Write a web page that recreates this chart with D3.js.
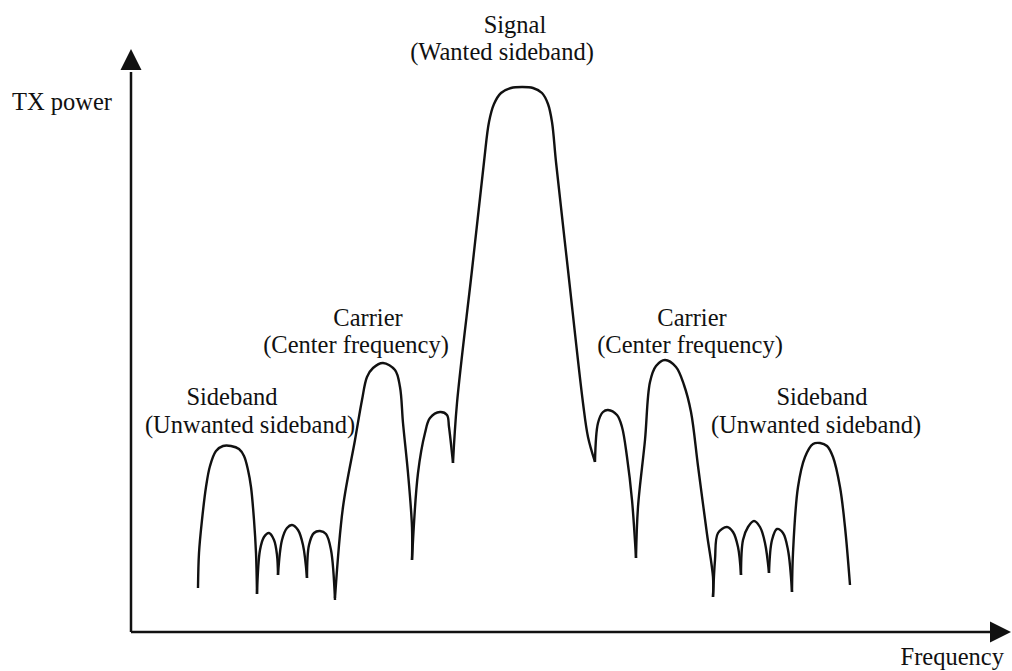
<!DOCTYPE html>
<html>
<head>
<meta charset="utf-8">
<script src="https://cdn.jsdelivr.net/npm/d3@7"></script>
<style>
  body { margin: 0; background: #fff; }
  svg { display: block; }
</style>
</head>
<body>
<svg width="1012" height="671"></svg>
<script>
// spectrum, one array per lobe: [frequency, power]
var sidebandLeft = [[67, 44], [68, 79], [71, 112], [75, 145], [79, 166], [85, 181], [92, 186], [100, 186], [108, 183], [113, 176], [117, 162], [120, 145], [123, 112], [125, 79], [126, 38]];
var spurLeft1 = [[126, 38], [129, 82], [133, 95], [138, 99], [143, 92], [146, 77], [147, 57]];
var spurLeft2 = [[147, 57], [151, 92], [156, 104], [161, 107], [167, 102], [172, 87], [176, 54]];
var spurLeft3 = [[176, 54], [178, 87], [183, 99], [189, 101], [195, 98], [200, 82], [204, 32]];
var carrierLeft = [[204, 34], [212, 125], [224, 192], [231, 232], [236, 255], [242, 264], [252, 269], [264, 262], [269, 245], [272, 209], [277, 159], [281, 105], [281, 72]];
var shoulderLeft = [[281, 72], [287, 159], [294, 199], [299, 214], [309, 220], [316, 217], [318, 205], [322, 169]];
var signal = [[322, 169], [326, 229], [341, 362], [353, 470], [358, 510], [363, 528], [370, 539], [380, 544], [391, 545], [402, 544], [411, 539], [417, 528], [421, 510], [425, 470], [437, 362], [452, 229], [457, 195], [464, 170]];
var shoulderRight = [[464, 170], [467, 209], [472, 220], [477, 222], [486, 217], [491, 205], [496, 175], [501, 132], [505, 74]];
var carrierRight = [[505, 74], [507, 125], [514, 192], [519, 250], [525, 266], [534, 272], [545, 265], [553, 247], [560, 220], [567, 166], [576, 98], [582, 55], [582, 35]];
var spurRight1 = [[582, 35], [584, 72], [587, 99], [596, 105], [602, 100], [607, 85], [610, 57]];
var spurRight2 = [[610, 57], [612, 92], [617, 105], [623, 111], [629, 105], [634, 89], [638, 59]];
var spurRight3 = [[638, 59], [641, 92], [646, 103], [652, 99], [657, 82], [661, 40]];
var sidebandRight = [[661, 40], [662, 79], [667, 145], [674, 175], [682, 188], [689, 189], [696, 186], [702, 175], [709, 145], [714, 105], [719, 47]];

var lobes = [sidebandLeft, spurLeft1, spurLeft2, spurLeft3, carrierLeft, shoulderLeft, signal,
  shoulderRight, carrierRight, spurRight1, spurRight2, spurRight3, sidebandRight];

// labels: [text, frequency, power]  (text is centred there)
var labels = [
  ["Signal", 384, 599],
  ["(Wanted sideband)", 371, 572],
  ["Carrier", 237, 306],
  ["(Center frequency)", 225, 279],
  ["Sideband", 101, 227],
  ["(Unwanted sideband)", 119, 199],
  ["Carrier", 561, 306],
  ["(Center frequency)", 559, 279],
  ["Sideband", 691, 227],
  ["(Unwanted sideband)", 685, 199]
];
var yTitle = "TX power";
var xTitle = "Frequency";

var FONT = '"Liberation Serif", "DejaVu Serif", "Noto Serif", "Times New Roman", Times, serif';

var svg = d3.select("svg");
var x = d3.scaleLinear().domain([0, 880]).range([131, 1011]);
var y = d3.scaleLinear().domain([0, 583]).range([632, 49]);

// axes with arrow heads
svg.append("line")
    .attr("x1", x(0)).attr("y1", y(0))
    .attr("x2", x(0)).attr("y2", y(560))
    .attr("stroke", "#111").attr("stroke-width", 2.5);
svg.append("line")
    .attr("x1", x(0)).attr("y1", y(0))
    .attr("x2", x(860)).attr("y2", y(0))
    .attr("stroke", "#111").attr("stroke-width", 2.5);
svg.append("path")
    .attr("d", "M" + x(0) + "," + y(583) + "L" + (x(0) - 10.5) + "," + (y(583) + 21) + "L" + (x(0) + 10.5) + "," + (y(583) + 21) + "Z")
    .attr("fill", "#111");
svg.append("path")
    .attr("d", "M" + x(880) + "," + y(0) + "L" + (x(880) - 21) + "," + (y(0) - 10.5) + "L" + (x(880) - 21) + "," + (y(0) + 10.5) + "Z")
    .attr("fill", "#111");

// the spectrum
var line = d3.line()
    .x(function (d) { return x(d[0]); })
    .y(function (d) { return y(d[1]); })
    .curve(d3.curveCatmullRom.alpha(0.5));

svg.selectAll("path.lobe")
    .data(lobes)
    .enter().append("path")
    .attr("class", "lobe")
    .attr("d", line)
    .attr("fill", "none")
    .attr("stroke", "#111")
    .attr("stroke-width", 2.4)
    .attr("stroke-linejoin", "round");

svg.selectAll("text.label")
    .data(labels)
    .enter().append("text")
    .attr("class", "label")
    .attr("x", function (d) { return x(d[1]); })
    .attr("y", function (d) { return y(d[2]); })
    .attr("text-anchor", "middle")
    .attr("font-family", FONT)
    .attr("font-size", 24.5)
    .attr("fill", "#111")
    .text(function (d) { return d[0]; });

svg.append("text")
    .attr("x", 12).attr("y", 110)
    .attr("font-family", FONT)
    .attr("font-size", 24.5)
    .attr("fill", "#111")
    .text(yTitle);
svg.append("text")
    .attr("x", 1004).attr("y", 665)
    .attr("text-anchor", "end")
    .attr("font-family", FONT)
    .attr("font-size", 24.5)
    .attr("fill", "#111")
    .text(xTitle);
</script>
</body>
</html>
